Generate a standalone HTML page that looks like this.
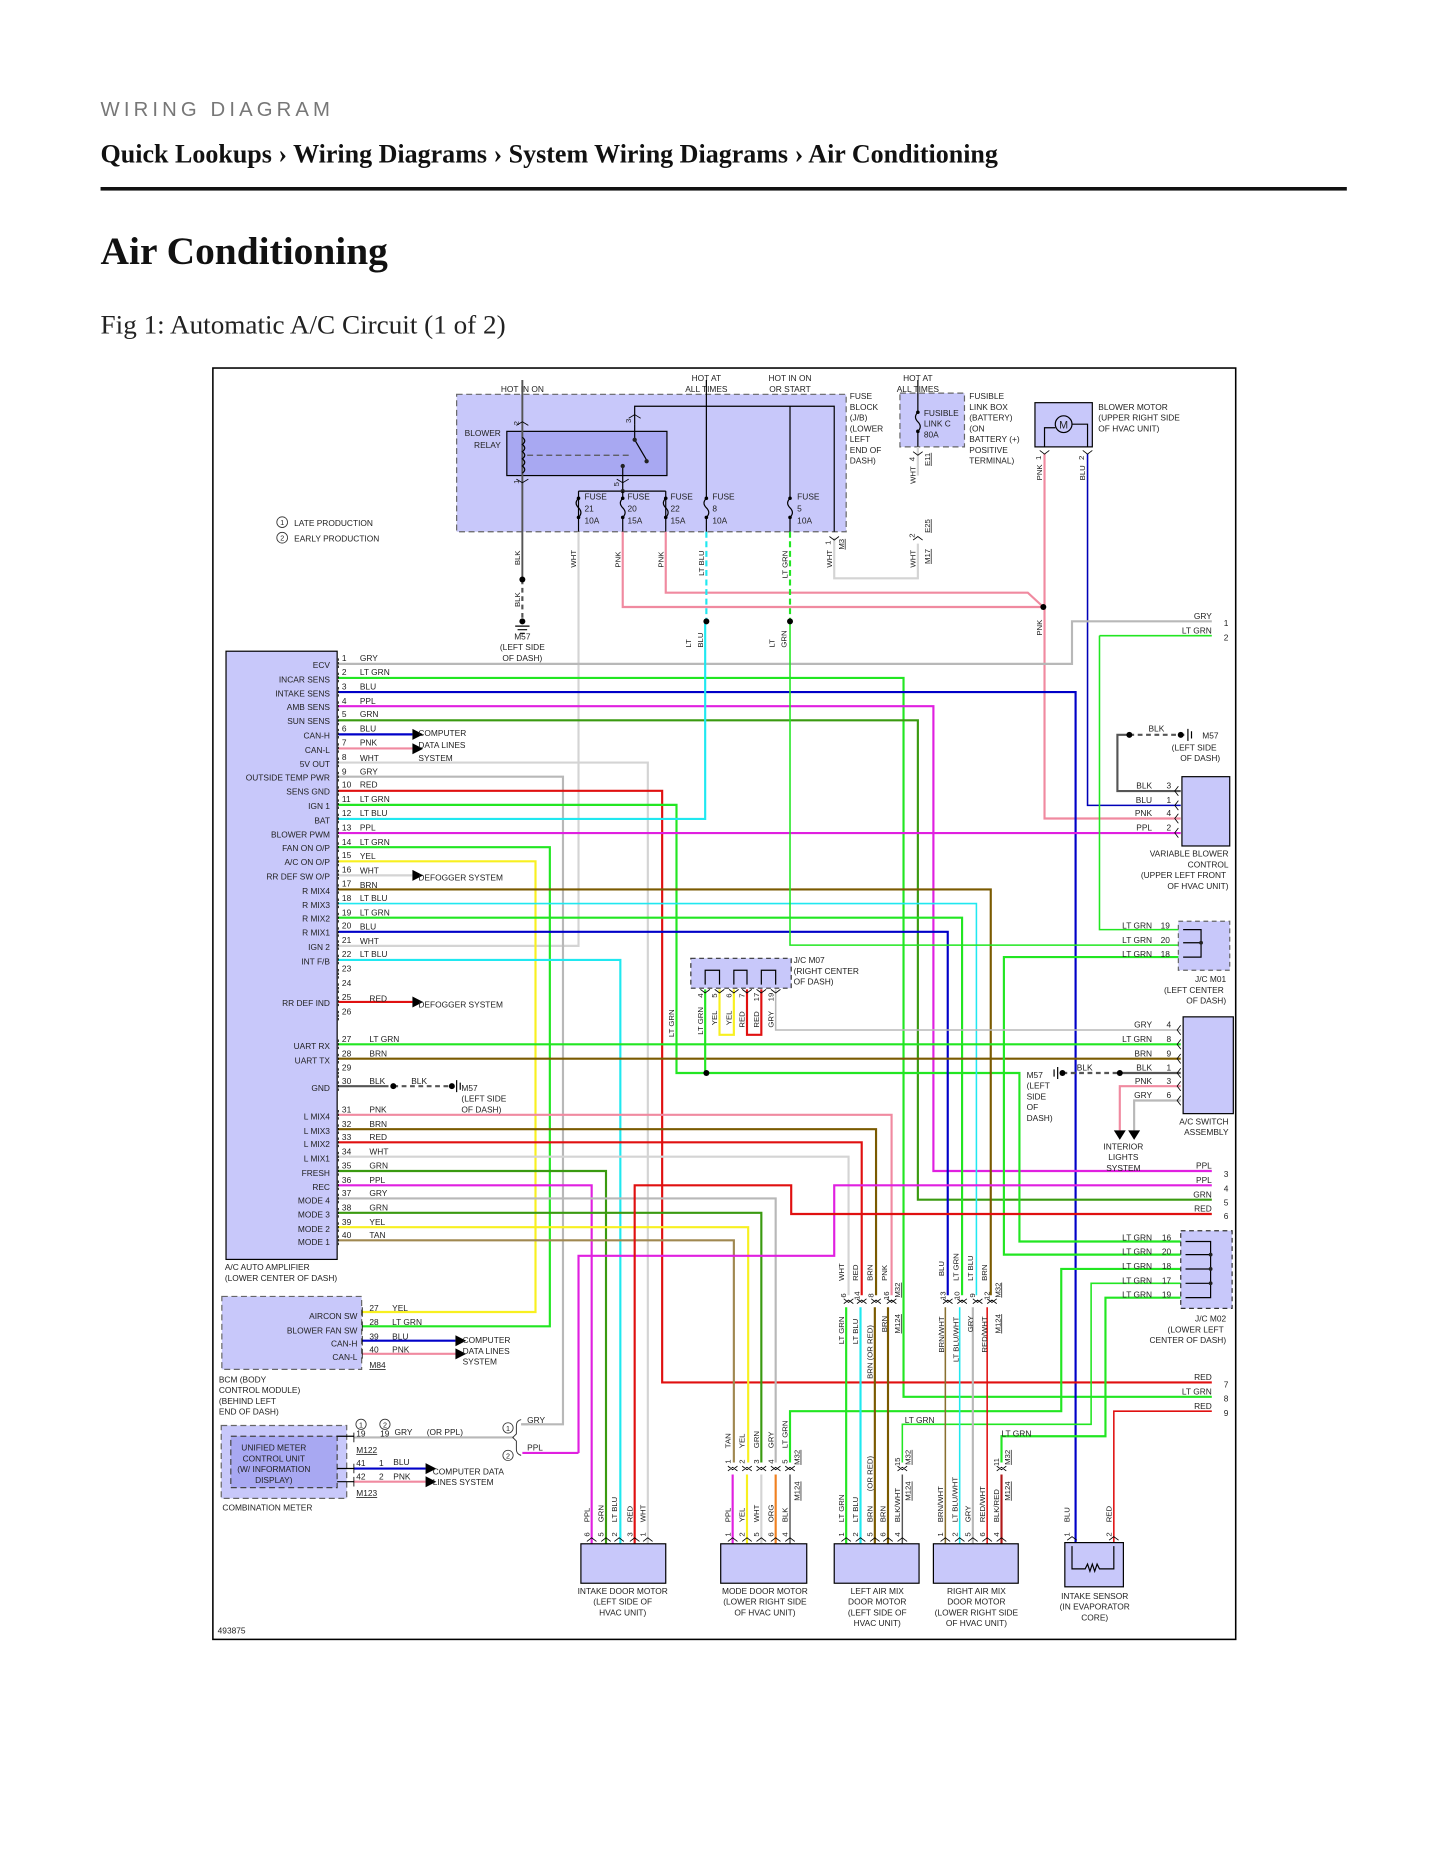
<!DOCTYPE html>
<html><head><meta charset="utf-8"><style>
html,body{margin:0;padding:0;background:#fff;}
svg{display:block;}
</style></head><body>
<svg xmlns="http://www.w3.org/2000/svg" width="1445" height="1870" viewBox="0 0 1209 1565" font-family="Liberation Sans, sans-serif">
<rect width="1209" height="1565" fill="#fff"/>
<text x="84" y="97" font-size="17" textLength="192" lengthAdjust="spacing" fill="#777">WIRING DIAGRAM</text>
<text x="84" y="136" font-family="Liberation Serif, serif" font-weight="bold" font-size="22" textLength="751" lengthAdjust="spacingAndGlyphs" fill="#111">Quick Lookups › Wiring Diagrams › System Wiring Diagrams › Air Conditioning</text>
<rect x="84" y="156.5" width="1043" height="3" fill="#111"/>
<text x="84" y="221" font-family="Liberation Serif, serif" font-weight="bold" font-size="33" fill="#111">Air Conditioning</text>
<text x="84" y="279" font-family="Liberation Serif, serif" font-size="22" textLength="339" lengthAdjust="spacingAndGlyphs" fill="#222">Fig 1: Automatic A/C Circuit (1 of 2)</text>
<rect x="178" y="308" width="856" height="1064" fill="none" stroke="#000" stroke-width="1.3"/>

<g font-size="7" fill="#222">
<rect x="382" y="330" width="326" height="115" fill="#c8c8fa" stroke="#666" stroke-dasharray="5,3"/>
<rect x="753" y="329" width="54" height="45" fill="#c8c8fa" stroke="#666" stroke-dasharray="5,3"/>
<rect x="866" y="337" width="48" height="37" fill="#c8c8fa" stroke="#000"/>
<rect x="424" y="361" width="134" height="37" fill="#a8a8f2" stroke="#000"/>
<text x="437" y="328" text-anchor="middle">HOT IN ON</text>
<text x="591" y="319" text-anchor="middle">HOT AT</text><text x="591" y="328" text-anchor="middle">ALL TIMES</text>
<text x="661" y="319" text-anchor="middle">HOT IN ON</text><text x="661" y="328" text-anchor="middle">OR START</text>
<text x="768" y="319" text-anchor="middle">HOT AT</text><text x="768" y="328" text-anchor="middle">ALL TIMES</text>
<text x="419" y="365" text-anchor="end">BLOWER</text><text x="419" y="375" text-anchor="end">RELAY</text>
<text x="711" y="334">FUSE</text><text x="711" y="343">BLOCK</text><text x="711" y="352">(J/B)</text><text x="711" y="361">(LOWER</text><text x="711" y="370">LEFT</text><text x="711" y="379">END OF</text><text x="711" y="388">DASH)</text>
<text x="773" y="348">FUSIBLE</text><text x="773" y="357">LINK C</text><text x="773" y="366">80A</text>
<text x="811" y="334">FUSIBLE</text><text x="811" y="343">LINK BOX</text><text x="811" y="352">(BATTERY)</text><text x="811" y="361">(ON</text><text x="811" y="370">BATTERY (+)</text><text x="811" y="379">POSITIVE</text><text x="811" y="388">TERMINAL)</text>
<text x="919" y="343">BLOWER MOTOR</text><text x="919" y="352">(UPPER RIGHT SIDE</text><text x="919" y="361">OF HVAC UNIT)</text>
<circle cx="890" cy="355" r="7" fill="none" stroke="#000"/><text x="890" y="358.5" text-anchor="middle" font-size="9">M</text>
<path d="M874 374 V358 H883 M897 355 H910 V374" fill="none" stroke="#000"/>
<path d="M437 318 V485" stroke="#555" stroke-width="1.6"/>
<path d="M437 366 q4 3 0 6 q4 3 0 6 q4 3 0 6 q4 3 0 6 q4 3 0 6" fill="none" stroke="#000"/>
<path d="M441 381 H528" stroke="#555" stroke-dasharray="5,3"/>
<path d="M531 355 V340 H698 V445" fill="none" stroke="#000"/>
<path d="M531 355 V368 L541 385" fill="none" stroke="#000"/><circle cx="531" cy="368" r="1.8"/><circle cx="541" cy="386" r="1.8"/>
<path d="M521 390 V411 M484 411 H557 M484 411 V445 M557 411 V445" fill="none" stroke="#000"/>
<circle cx="521" cy="390" r="1.8"/><circle cx="521" cy="411" r="1.8"/>
<g fill="none" stroke="#000">
<path d="M484 417 q-4 4 0 8 q4 4 0 8"/><path d="M521 411 V417 q-4 4 0 8 q4 4 0 8 V445"/><path d="M557 417 q-4 4 0 8 q4 4 0 8"/>
<path d="M591 318 V417 q-4 4 0 8 q4 4 0 8 V445"/><path d="M661 340 V417 q-4 4 0 8 q4 4 0 8 V445"/>
<path d="M768 318 V345 q-4 4 0 8 q4 4 0 8 V374"/>
</g>
<g fill="#000"><circle cx="484" cy="417" r="1.5"/><circle cx="484" cy="433" r="1.5"/><circle cx="521" cy="417" r="1.5"/><circle cx="521" cy="433" r="1.5"/><circle cx="557" cy="417" r="1.5"/><circle cx="557" cy="433" r="1.5"/><circle cx="591" cy="417" r="1.5"/><circle cx="591" cy="433" r="1.5"/><circle cx="661" cy="417" r="1.5"/><circle cx="661" cy="433" r="1.5"/><circle cx="768" cy="345" r="1.5"/><circle cx="768" cy="361" r="1.5"/></g>
<text x="489" y="418">FUSE</text><text x="489" y="428">21</text><text x="489" y="438">10A</text>
<text x="525" y="418">FUSE</text><text x="525" y="428">20</text><text x="525" y="438">15A</text>
<text x="561" y="418">FUSE</text><text x="561" y="428">22</text><text x="561" y="438">15A</text>
<text x="596" y="418">FUSE</text><text x="596" y="428">8</text><text x="596" y="438">10A</text>
<text x="667" y="418">FUSE</text><text x="667" y="428">5</text><text x="667" y="438">10A</text>
<circle cx="236" cy="437" r="4.5" fill="none" stroke="#333" stroke-width=".7"/><text x="236" y="439.5" text-anchor="middle" font-size="6">1</text><text x="246" y="440">LATE PRODUCTION</text>
<circle cx="236" cy="450" r="4.5" fill="none" stroke="#333" stroke-width=".7"/><text x="236" y="452.5" text-anchor="middle" font-size="6">2</text><text x="246" y="453">EARLY PRODUCTION</text>
</g>

<g fill="none" stroke-width="1.8" stroke-linejoin="miter">
<path d="M437 485 V520" stroke="#555" stroke-dasharray="4,3"/>
<path d="M484 445 V791.6 H283" stroke="#d4d4d4"/>
<path d="M521 445 V508 H873" stroke="#f08aa0"/>
<path d="M557 445 V496 H860 L873 508" stroke="#f08aa0"/>
<path d="M591 445 V520" stroke="#20e8f0" stroke-dasharray="5,3"/>
<path d="M661 445 V520" stroke="#22e622" stroke-dasharray="5,3"/>
<path d="M698 450 V484 H768 V455" stroke="#d4d4d4"/>
<path d="M768 374 V398" stroke="#d4d4d4"/>
<path d="M874 380 V685 H988" stroke="#f08aa0"/>
<path d="M910 380 V674 H988" stroke="#0000b8" stroke-width="1.3"/>
<path d="M988 662 H935 V615 H945" stroke="#555"/>
<path d="M945 615 H992" stroke="#555" stroke-dasharray="4,3"/>
<path d="M283 555.6 H897 V520 H1014" stroke="#b8b8b8"/>
<path d="M283 567.4 H756 V1169 H1014" stroke="#22e622"/>
<path d="M283 579.2 H900 V1292" stroke="#0000c8"/>
<path d="M283 591 H781 V980 H1014" stroke="#e020e0"/>
<path d="M283 602.8 H768 V1004 H1014" stroke="#3a9a10"/>
<path d="M283 614.6 H345" stroke="#0000c8"/>
<path d="M283 626.4 H345" stroke="#f08aa0"/>
<path d="M283 638.2 H542 V1292" stroke="#d4d4d4"/>
<path d="M283 650 H471 V1192 H436" stroke="#b8b8b8"/>
<path d="M283 661.8 H554 V1157 H1014" stroke="#e01010"/>
<path d="M283 673.6 H566 V898 H853 V1039 H988" stroke="#22e622"/>
<path d="M283 685.4 H590 V520" stroke="#20e8f0"/>
<path d="M283 697.2 H988" stroke="#e020e0"/>
<path d="M283 709 H460 V1110 H303" stroke="#22e622"/>
<path d="M283 720.8 H448 V1098 H303" stroke="#f8f020"/>
<path d="M283 732.6 H345" stroke="#d4d4d4"/>
<path d="M283 744.4 H829 V1084" stroke="#7a5a00"/>
<path d="M283 756.2 H817 V1084" stroke="#20e8f0" stroke-width="1.3"/>
<path d="M283 768 H805 V1084" stroke="#22e622"/>
<path d="M283 779.8 H793 V1084" stroke="#0000c8"/>
<path d="M283 803.4 H519 V1292" stroke="#20e8f0"/>
<path d="M283 838.5 H345" stroke="#e01010"/>
<path d="M283 874 H988" stroke="#22e622"/>
<path d="M283 886 H988" stroke="#7a5a00"/>
<path d="M283 909 H325" stroke="#555"/>
<path d="M329 909 H378" stroke="#555" stroke-dasharray="4,3"/>
<path d="M283 933 H746 V1084" stroke="#f08aa0"/>
<path d="M283 945 H733 V1084" stroke="#7a5a00"/>
<path d="M283 956 H721 V1084" stroke="#e01010"/>
<path d="M283 968 H710 V1084" stroke="#d4d4d4"/>
<path d="M283 980 H507 V1292" stroke="#3a9a10"/>
<path d="M283 992 H495 V1292" stroke="#e020e0"/>
<path d="M283 1003 H649 V1224" stroke="#b8b8b8"/>
<path d="M283 1015 H637 V1224" stroke="#3a9a10"/>
<path d="M283 1027 H626 V1224" stroke="#f8f020"/>
<path d="M283 1038 H614 V1224" stroke="#a08850"/>
<path d="M661 520 V791 H988" stroke="#22e622" stroke-width="1.3"/>
<path d="M920 532 H1014 M920 532 V778 H988" stroke="#22e622" stroke-width="1.3"/>
<path d="M988 801 H840 V1050 H988" stroke="#22e622"/>
<path d="M590 828 V898" stroke="#22e622"/>
<path d="M649 828 V862 H988" stroke="#b8b8b8" stroke-width="1.3"/>
<path d="M602 828 V866 H614 V828" stroke="#f8f020"/>
<path d="M625 828 V866 H637 V828" stroke="#e01010"/>
<path d="M937 898 H988" stroke="#555"/>
<path d="M889 898 H937" stroke="#555" stroke-dasharray="4,3"/>
<path d="M988 909 H937 V946" stroke="#f08aa0"/>
<path d="M988 921 H949 V946" stroke="#b8b8b8"/>
<path d="M484 1216 V1051 H698 V992 H1014" stroke="#e020e0"/>
<path d="M531 1292 V992 H662 V1016 H1014" stroke="#e01010"/>
<path d="M988 1062 H888 V1181 H661 V1224" stroke="#22e622"/>
<path d="M988 1074 H913 V1192 H755 V1224" stroke="#22e622" stroke-width="1.3"/>
<path d="M988 1086 H925 V1202 H838 V1224" stroke="#22e622"/>
<path d="M932 1292 V1181 H1014" stroke="#e01010" stroke-width="1.3"/>
<path d="M708 1094 V1292" stroke="#22e622"/>
<path d="M720 1094 V1292" stroke="#20e8f0"/>
<path d="M732 1094 V1292" stroke="#7a5a00"/>
<path d="M743 1094 V1292" stroke="#7a5a00"/>
<path d="M755 1234 V1292" stroke="#555" stroke-width="1.2"/>
<path d="M791 1094 V1292" stroke="#8a7030" stroke-width="1.3"/>
<path d="M803 1094 V1292" stroke="#20e8f0" stroke-width="1.3"/>
<path d="M814 1094 V1292" stroke="#b8b8b8"/>
<path d="M826 1094 V1292" stroke="#e01010" stroke-width="1.3"/>
<path d="M838 1234 V1292" stroke="#b01818"/>
<path d="M613 1234 V1292" stroke="#e020e0"/>
<path d="M625 1234 V1292" stroke="#f8f020"/>
<path d="M637 1234 V1292" stroke="#d4d4d4"/>
<path d="M649 1234 V1292" stroke="#f08020"/>
<path d="M661 1234 V1292" stroke="#555" stroke-width="1.2"/>
<path d="M303 1122 H381" stroke="#0000c8"/>
<path d="M303 1133 H381" stroke="#f08aa0"/>
<path d="M296 1203 H430" stroke="#b8b8b8"/>
<path d="M442 1192 H436" stroke="#b8b8b8"/>
<path d="M437 1216 H484" stroke="#e020e0"/>
<path d="M296 1229 H356" stroke="#0000c8"/>
<path d="M296 1240 H356" stroke="#f08aa0"/>
</g>
<g fill="#000">
<circle cx="437" cy="485" r="2.5"/><circle cx="591" cy="520" r="2.5"/><circle cx="661" cy="520" r="2.5"/><circle cx="873" cy="508" r="2.5"/>
<circle cx="945" cy="615" r="2.5"/><circle cx="591" cy="898" r="2.5"/><circle cx="937" cy="898" r="2.5"/><circle cx="329" cy="909" r="2.5"/>
<circle cx="988" cy="615" r="2.5"/><circle cx="378" cy="909" r="2.5"/><circle cx="889" cy="898" r="2.5"/><circle cx="437" cy="520" r="2.5"/>
<path d="M345 610 l9 4.6 l-9 4.6z M345 622 l9 4.6 l-9 4.6z M345 728 l9 4.6 l-9 4.6z M345 834 l9 4.6 l-9 4.6z"/>
<path d="M381 1117.5 l9 4.6 l-9 4.6z M381 1128.5 l9 4.6 l-9 4.6z M356 1224.5 l9 4.6 l-9 4.6z M356 1235.5 l9 4.6 l-9 4.6z"/>
<path d="M932 946 h10 l-5 8z M944 946 h10 l-5 8z"/>
</g>
<g stroke="#000" stroke-width="1">
<path d="M431 524 h12 M433 527 h8 M435 530 h4"/>
<path d="M994 610 v10 M997 612 v6 M382 904 v10 M385 906 v6 M885 893 v10 M882 895 v6"/>
</g>

<g font-size="7" fill="#222">
<rect x="189" y="545" width="93" height="509" fill="#c8c8fa" stroke="#000"/>
<g text-anchor="end">
<text x="276" y="559">ECV</text><text x="276" y="571">INCAR SENS</text><text x="276" y="583">INTAKE SENS</text><text x="276" y="594">AMB SENS</text><text x="276" y="606">SUN SENS</text><text x="276" y="618">CAN-H</text><text x="276" y="630">CAN-L</text><text x="276" y="642">5V OUT</text><text x="276" y="653">OUTSIDE TEMP PWR</text><text x="276" y="665">SENS GND</text><text x="276" y="677">IGN 1</text><text x="276" y="689">BAT</text><text x="276" y="701">BLOWER PWM</text><text x="276" y="712">FAN ON O/P</text><text x="276" y="724">A/C ON O/P</text><text x="276" y="736">RR DEF SW O/P</text><text x="276" y="748">R MIX4</text><text x="276" y="760">R MIX3</text><text x="276" y="771">R MIX2</text><text x="276" y="783">R MIX1</text><text x="276" y="795">IGN 2</text><text x="276" y="807">INT F/B</text><text x="276" y="842">RR DEF IND</text><text x="276" y="878">UART RX</text><text x="276" y="890">UART TX</text><text x="276" y="913">GND</text><text x="276" y="937">L MIX4</text><text x="276" y="949">L MIX3</text><text x="276" y="960">L MIX2</text><text x="276" y="972">L MIX1</text><text x="276" y="984">FRESH</text><text x="276" y="996">REC</text><text x="276" y="1007">MODE 4</text><text x="276" y="1019">MODE 3</text><text x="276" y="1031">MODE 2</text><text x="276" y="1042">MODE 1</text>
</g>
<g>
<text x="286" y="553">1</text><text x="301" y="553">GRY</text>
<text x="286" y="565">2</text><text x="301" y="565">LT GRN</text>
<text x="286" y="577">3</text><text x="301" y="577">BLU</text>
<text x="286" y="589">4</text><text x="301" y="589">PPL</text>
<text x="286" y="600">5</text><text x="301" y="600">GRN</text>
<text x="286" y="612">6</text><text x="301" y="612">BLU</text>
<text x="286" y="624">7</text><text x="301" y="624">PNK</text>
<text x="286" y="636">8</text><text x="301" y="637">WHT</text>
<text x="286" y="648">9</text><text x="301" y="648">GRY</text>
<text x="286" y="659">10</text><text x="301" y="659">RED</text>
<text x="286" y="671">11</text><text x="301" y="671">LT GRN</text>
<text x="286" y="683">12</text><text x="301" y="683">LT BLU</text>
<text x="286" y="695">13</text><text x="301" y="695">PPL</text>
<text x="286" y="707">14</text><text x="301" y="707">LT GRN</text>
<text x="286" y="718">15</text><text x="301" y="719">YEL</text>
<text x="286" y="730">16</text><text x="301" y="731">WHT</text>
<text x="286" y="742">17</text><text x="301" y="743">BRN</text>
<text x="286" y="754">18</text><text x="301" y="754">LT BLU</text>
<text x="286" y="766">19</text><text x="301" y="766">LT GRN</text>
<text x="286" y="777">20</text><text x="301" y="778">BLU</text>
<text x="286" y="789">21</text><text x="301" y="790">WHT</text>
<text x="286" y="801">22</text><text x="301" y="801">LT BLU</text>
<text x="286" y="813">23</text><text x="286" y="825">24</text>
<text x="286" y="837">25</text><text x="309" y="838">RED</text><text x="286" y="849">26</text>
<text x="286" y="872">27</text><text x="309" y="872">LT GRN</text>
<text x="286" y="884">28</text><text x="309" y="884">BRN</text>
<text x="286" y="896">29</text>
<text x="286" y="907">30</text><text x="309" y="907">BLK</text><text x="344" y="907">BLK</text>
<text x="286" y="931">31</text><text x="309" y="931">PNK</text>
<text x="286" y="943">32</text><text x="309" y="943">BRN</text>
<text x="286" y="954">33</text><text x="309" y="954">RED</text>
<text x="286" y="966">34</text><text x="309" y="966">WHT</text>
<text x="286" y="978">35</text><text x="309" y="978">GRN</text>
<text x="286" y="990">36</text><text x="309" y="990">PPL</text>
<text x="286" y="1001">37</text><text x="309" y="1001">GRY</text>
<text x="286" y="1013">38</text><text x="309" y="1013">GRN</text>
<text x="286" y="1025">39</text><text x="309" y="1025">YEL</text>
<text x="286" y="1036">40</text><text x="309" y="1036">TAN</text>
</g>
<text x="350" y="616">COMPUTER</text><text x="350" y="626">DATA LINES</text><text x="350" y="637">SYSTEM</text>
<text x="350" y="737">DEFOGGER SYSTEM</text><text x="350" y="843">DEFOGGER SYSTEM</text>
<text x="386" y="913">M57</text><text x="386" y="922">(LEFT SIDE</text><text x="386" y="931">OF DASH)</text>
<text x="188" y="1063">A/C AUTO AMPLIFIER</text><text x="188" y="1072">(LOWER CENTER OF DASH)</text>
<text x="437" y="535" text-anchor="middle">M57</text><text x="437" y="544" text-anchor="middle">(LEFT SIDE</text><text x="437" y="553" text-anchor="middle">OF DASH)</text>

<rect x="185.5" y="1085" width="117" height="61" fill="#c8c8fa" stroke="#666" stroke-dasharray="5,3"/>
<g text-anchor="end"><text x="299" y="1104">AIRCON SW</text><text x="299" y="1116">BLOWER FAN SW</text><text x="299" y="1127">CAN-H</text><text x="299" y="1138">CAN-L</text></g>
<text x="309" y="1097">27</text><text x="328" y="1097">YEL</text>
<text x="309" y="1109">28</text><text x="328" y="1109">LT GRN</text>
<text x="309" y="1121">39</text><text x="328" y="1121">BLU</text>
<text x="309" y="1132">40</text><text x="328" y="1132">PNK</text>
<text x="309" y="1145" text-decoration="underline">M84</text>
<text x="387" y="1124">COMPUTER</text><text x="387" y="1133">DATA LINES</text><text x="387" y="1142">SYSTEM</text>
<text x="183" y="1157">BCM (BODY</text><text x="183" y="1166">CONTROL MODULE)</text><text x="183" y="1175">(BEHIND LEFT</text><text x="183" y="1184">END OF DASH)</text>
<rect x="185" y="1193" width="105" height="61" fill="#c8c8fa" stroke="#666" stroke-dasharray="5,3"/>
<rect x="193" y="1202" width="89" height="43" fill="#a8a8f2" stroke="#444" stroke-dasharray="5,3"/>
<g text-anchor="middle" font-size="7"><text x="229" y="1214">UNIFIED METER</text><text x="229" y="1223">CONTROL UNIT</text><text x="229" y="1232">(W/ INFORMATION</text><text x="229" y="1241">DISPLAY)</text></g>
<path d="M282 1202 H296 M282 1229 H296 M282 1240 H296" stroke="#000" fill="none"/>
<circle cx="302" cy="1192" r="4.3" fill="none" stroke="#333" stroke-width=".7"/><text x="302" y="1194.5" text-anchor="middle" font-size="6">1</text>
<circle cx="322" cy="1192" r="4.3" fill="none" stroke="#333" stroke-width=".7"/><text x="322" y="1194.5" text-anchor="middle" font-size="6">2</text>
<text x="298" y="1202">19</text><text x="318" y="1202">19</text><text x="330" y="1201">GRY</text><text x="357" y="1201">(OR PPL)</text>
<text x="298" y="1216" text-decoration="underline">M122</text>
<text x="298" y="1227">41</text><text x="317" y="1227">1</text><text x="329" y="1226">BLU</text>
<text x="298" y="1238">42</text><text x="317" y="1238">2</text><text x="329" y="1238">PNK</text>
<text x="298" y="1252" text-decoration="underline">M123</text>
<text x="362" y="1234">COMPUTER DATA</text><text x="362" y="1243">LINES SYSTEM</text>
<text x="186" y="1264">COMBINATION METER</text>
<path d="M436 1188 q-4 1 -4 5 v7 l-3 3 l3 3 v7 q0 4 4 5" fill="none" stroke="#333" stroke-width=".8"/>
<circle cx="425" cy="1195" r="4.3" fill="none" stroke="#333" stroke-width=".7"/><text x="425" y="1197.5" text-anchor="middle" font-size="6">1</text>
<circle cx="425" cy="1218" r="4.3" fill="none" stroke="#333" stroke-width=".7"/><text x="425" y="1220.5" text-anchor="middle" font-size="6">2</text>
<text x="441" y="1191">GRY</text><text x="441" y="1214">PPL</text>

<rect x="989" y="650" width="40" height="58" fill="#c8c8fa" stroke="#000"/>
<g text-anchor="end"><text x="964" y="660">BLK</text><text x="964" y="672">BLU</text><text x="964" y="683">PNK</text><text x="964" y="695">PPL</text></g>
<g text-anchor="end"><text x="980" y="660">3</text><text x="980" y="672">1</text><text x="980" y="683">4</text><text x="980" y="695">2</text></g>
<text x="961" y="612">BLK</text><text x="1006" y="618">M57</text><text x="1018" y="628" text-anchor="end">(LEFT SIDE</text><text x="1021" y="637" text-anchor="end">OF DASH)</text>
<g text-anchor="end"><text x="1028" y="717">VARIABLE BLOWER</text><text x="1028" y="726">CONTROL</text><text x="1026" y="735">(UPPER LEFT FRONT</text><text x="1028" y="744">OF HVAC UNIT)</text></g>
<text x="1014" y="518" text-anchor="end">GRY</text><text x="1014" y="530" text-anchor="end">LT GRN</text><text x="1024" y="524">1</text><text x="1024" y="536">2</text>
<rect x="986" y="771" width="43" height="41" fill="#c8c8fa" stroke="#666" stroke-dasharray="4,3"/>
<path d="M990 778 H1005 V801 H990 M990 789 H1005" fill="none" stroke="#000"/><circle cx="1005" cy="789" r="1.6"/>
<g text-anchor="end"><text x="964" y="777">LT GRN</text><text x="964" y="789">LT GRN</text><text x="964" y="801">LT GRN</text><text x="979" y="777">19</text><text x="979" y="789">20</text><text x="979" y="801">18</text>
<text x="1026" y="822">J/C M01</text><text x="1024" y="831">(LEFT CENTER</text><text x="1026" y="840">OF DASH)</text></g>
<rect x="578" y="802" width="84" height="25" fill="#c8c8fa" stroke="#333" stroke-dasharray="4,3"/>
<path d="M590 824 V812 H602 V824 M614 824 V812 H625 V824 M637 824 V812 H649 V824" fill="none" stroke="#000"/>
<text x="664" y="806">J/C M07</text><text x="664" y="815">(RIGHT CENTER</text><text x="664" y="824">OF DASH)</text>
<rect x="990" y="851" width="42" height="81" fill="#c8c8fa" stroke="#000"/>
<g text-anchor="end"><text x="964" y="860">GRY</text><text x="964" y="872">LT GRN</text><text x="964" y="884">BRN</text><text x="964" y="896">BLK</text><text x="964" y="907">PNK</text><text x="964" y="919">GRY</text>
<text x="980" y="860">4</text><text x="980" y="872">8</text><text x="980" y="884">9</text><text x="980" y="896">1</text><text x="980" y="907">3</text><text x="980" y="919">6</text>
<text x="1028" y="941">A/C SWITCH</text><text x="1028" y="950">ASSEMBLY</text></g>
<text x="901" y="896">BLK</text>
<text x="859" y="902">M57</text><text x="859" y="911">(LEFT</text><text x="859" y="920">SIDE</text><text x="859" y="929">OF</text><text x="859" y="938">DASH)</text>
<g text-anchor="middle"><text x="940" y="962">INTERIOR</text><text x="940" y="971">LIGHTS</text><text x="940" y="980">SYSTEM</text></g>
<g text-anchor="end"><text x="1014" y="978">PPL</text><text x="1014" y="990">PPL</text><text x="1014" y="1002">GRN</text><text x="1014" y="1014">RED</text><text x="1014" y="1155">RED</text><text x="1014" y="1167">LT GRN</text><text x="1014" y="1179">RED</text></g>
<text x="1024" y="985">3</text><text x="1024" y="997">4</text><text x="1024" y="1009">5</text><text x="1024" y="1020">6</text><text x="1024" y="1161">7</text><text x="1024" y="1173">8</text><text x="1024" y="1185">9</text>
<rect x="988" y="1030" width="43" height="65" fill="#c8c8fa" stroke="#333" stroke-dasharray="4,3"/>
<path d="M992 1039 H1013 V1086 H992 M992 1050 H1013 M992 1062 H1013 M992 1074 H1013" fill="none" stroke="#000"/>
<circle cx="1013" cy="1050" r="1.6"/><circle cx="1013" cy="1062" r="1.6"/><circle cx="1013" cy="1074" r="1.6"/>
<g text-anchor="end"><text x="964" y="1038">LT GRN</text><text x="964" y="1050">LT GRN</text><text x="964" y="1062">LT GRN</text><text x="964" y="1074">LT GRN</text><text x="964" y="1086">LT GRN</text>
<text x="980" y="1038">16</text><text x="980" y="1050">20</text><text x="980" y="1062">18</text><text x="980" y="1074">17</text><text x="980" y="1086">19</text>
<text x="1026" y="1106">J/C M02</text><text x="1024" y="1115">(LOWER LEFT</text><text x="1026" y="1124">CENTER OF DASH)</text></g>
<text x="757" y="1191">LT GRN</text><text x="838" y="1202">LT GRN</text>

<rect x="486" y="1292" width="71" height="33" fill="#c8c8fa" stroke="#000"/>
<rect x="603" y="1292" width="72" height="33" fill="#c8c8fa" stroke="#000"/>
<rect x="698" y="1292" width="71" height="33" fill="#c8c8fa" stroke="#000"/>
<rect x="781" y="1292" width="71" height="33" fill="#c8c8fa" stroke="#000"/>
<rect x="891" y="1291" width="49" height="37" fill="#c8c8fa" stroke="#000"/>
<path d="M897 1294 V1313 H908 l2 -4 l2 6 l2 -6 l2 6 l2 -6 l2 4 H932 V1294" fill="none" stroke="#000"/>
<g text-anchor="middle">
<text x="521" y="1334">INTAKE DOOR MOTOR</text><text x="521" y="1343">(LEFT SIDE OF</text><text x="521" y="1352">HVAC UNIT)</text>
<text x="640" y="1334">MODE DOOR MOTOR</text><text x="640" y="1343">(LOWER RIGHT SIDE</text><text x="640" y="1352">OF HVAC UNIT)</text>
<text x="734" y="1334">LEFT AIR MIX</text><text x="734" y="1343">DOOR MOTOR</text><text x="734" y="1352">(LEFT SIDE OF</text><text x="734" y="1361">HVAC UNIT)</text>
<text x="817" y="1334">RIGHT AIR MIX</text><text x="817" y="1343">DOOR MOTOR</text><text x="817" y="1352">(LOWER RIGHT SIDE</text><text x="817" y="1361">OF HVAC UNIT)</text>
<text x="916" y="1338">INTAKE SENSOR</text><text x="916" y="1347">(IN EVAPORATOR</text><text x="916" y="1356">CORE)</text>
</g>
<text x="182" y="1367">493875</text>
</g>

<g fill="none" stroke="#000" stroke-width=".7">
<path d="M283 551v9 M283 563v9 M283 575v9 M283 587v9 M283 599v9 M283 610v9 M283 622v9 M283 634v9 M283 646v9 M283 658v9 M283 669v9 M283 681v9 M283 693v9 M283 705v9 M283 717v9 M283 728v9 M283 740v9 M283 752v9 M283 764v9 M283 776v9 M283 787v9 M283 799v9 M283 811v9 M283 823v9 M283 834v9 M283 846v9 M283 870v9 M283 882v9 M283 894v9 M283 905v9 M283 929v9 M283 941v9 M283 952v9 M283 964v9 M283 976v9 M283 988v9 M283 999v9 M283 1011v9 M283 1023v9 M283 1034v9" stroke-dasharray="2,1"/>
<path d="M303 1094v8 M303 1106v8 M303 1118v8 M303 1129v8 M296 1199v8 M296 1225v8 M296 1236v8"/>
<path d="M432 356 l5 -3 l5 3 M432 401 l5 3 l5 -3 M526 350 l5 -3 l5 3 M516 401 l5 3 l5 -3"/>
<path d="M694 449 l4 3 l4 -3 M764 378 l4 3 l4 -3 M764 452 l4 -3 l4 3 M870 377 l4 3 l4 -3 M906 377 l4 3 l4 -3"/>
<path d="M986 658 l-3 4 l3 4 M986 670 l-3 4 l3 4 M986 681 l-3 4 l3 4 M986 693 l-3 4 l3 4 M988 858 l-3 4 l3 4 M988 870 l-3 4 l3 4 M988 882 l-3 4 l3 4 M988 894 l-3 4 l3 4 M988 905 l-3 4 l3 4 M988 917 l-3 4 l3 4"/>
<path d="M586 828 l4 3 l4 -3 M598 828 l4 3 l4 -3 M610 828 l4 3 l4 -3 M621 828 l4 3 l4 -3 M633 828 l4 3 l4 -3 M645 828 l4 3 l4 -3"/>
<path d="M706 1087 l4 3 l4 -3 M706 1091 l4 -3 l4 3 M717 1087 l4 3 l4 -3 M717 1091 l4 -3 l4 3 M729 1087 l4 3 l4 -3 M729 1091 l4 -3 l4 3 M742 1087 l4 3 l4 -3 M742 1091 l4 -3 l4 3"/>
<path d="M789 1087 l4 3 l4 -3 M789 1091 l4 -3 l4 3 M801 1087 l4 3 l4 -3 M801 1091 l4 -3 l4 3 M814 1087 l4 3 l4 -3 M814 1091 l4 -3 l4 3 M826 1087 l4 3 l4 -3 M826 1091 l4 -3 l4 3"/>
<path d="M609 1227 l4 3 l4 -3 M609 1231 l4 -3 l4 3 M621 1227 l4 3 l4 -3 M621 1231 l4 -3 l4 3 M633 1227 l4 3 l4 -3 M633 1231 l4 -3 l4 3 M645 1227 l4 3 l4 -3 M645 1231 l4 -3 l4 3 M657 1227 l4 3 l4 -3 M657 1231 l4 -3 l4 3 M751 1227 l4 3 l4 -3 M751 1231 l4 -3 l4 3 M834 1227 l4 3 l4 -3 M834 1231 l4 -3 l4 3"/>
<path d="M491 1290 l4 -3 l4 3 M503 1290 l4 -3 l4 3 M514 1290 l4 -3 l4 3 M527 1290 l4 -3 l4 3 M538 1290 l4 -3 l4 3 M609 1290 l4 -3 l4 3 M621 1290 l4 -3 l4 3 M633 1290 l4 -3 l4 3 M645 1290 l4 -3 l4 3 M657 1290 l4 -3 l4 3 M704 1290 l4 -3 l4 3 M716 1290 l4 -3 l4 3 M728 1290 l4 -3 l4 3 M739 1290 l4 -3 l4 3 M751 1290 l4 -3 l4 3 M787 1290 l4 -3 l4 3 M799 1290 l4 -3 l4 3 M810 1290 l4 -3 l4 3 M822 1290 l4 -3 l4 3 M834 1290 l4 -3 l4 3 M893 1289 l4 -3 l4 3 M928 1289 l4 -3 l4 3"/>
</g>

<g font-size="6.5" fill="#222">
<g transform="translate(435,473) rotate(-90)"><text>BLK</text></g>
<g transform="translate(435,508) rotate(-90)"><text>BLK</text></g>
<g transform="translate(482,475) rotate(-90)"><text>WHT</text></g>
<g transform="translate(519,475) rotate(-90)"><text>PNK</text></g>
<g transform="translate(555,475) rotate(-90)"><text>PNK</text></g>
<g transform="translate(589,482) rotate(-90)"><text>LT BLU</text></g>
<g transform="translate(659,484) rotate(-90)"><text>LT GRN</text></g>
<g transform="translate(696,475) rotate(-90)"><text>WHT</text></g>
<g transform="translate(766,475) rotate(-90)"><text>WHT</text></g>
<g transform="translate(766,405) rotate(-90)"><text>WHT</text></g>
<g transform="translate(872,402) rotate(-90)"><text>PNK</text></g>
<g transform="translate(908,402) rotate(-90)"><text>BLU</text></g>
<g transform="translate(872,532) rotate(-90)"><text>PNK</text></g>
<g transform="translate(578,542) rotate(-90)"><text>LT</text></g><g transform="translate(588,542) rotate(-90)"><text>BLU</text></g>
<g transform="translate(648,542) rotate(-90)"><text>LT</text></g><g transform="translate(658,542) rotate(-90)"><text>GRN</text></g>
<g transform="translate(564,868) rotate(-90)"><text>LT GRN</text></g>
<g transform="translate(588,866) rotate(-90)"><text>LT GRN</text></g>
<g transform="translate(600,858) rotate(-90)"><text>YEL</text></g>
<g transform="translate(612,858) rotate(-90)"><text>YEL</text></g>
<g transform="translate(623,860) rotate(-90)"><text>RED</text></g>
<g transform="translate(635,860) rotate(-90)"><text>RED</text></g>
<g transform="translate(647,860) rotate(-90)"><text>GRY</text></g>
<g transform="translate(706,1072) rotate(-90)"><text>WHT</text></g>
<g transform="translate(718,1072) rotate(-90)"><text>RED</text></g>
<g transform="translate(730,1072) rotate(-90)"><text>BRN</text></g>
<g transform="translate(742,1072) rotate(-90)"><text>PNK</text></g>
<g transform="translate(753,1086) rotate(-90)"><text text-decoration="underline">M32</text></g>
<g transform="translate(706,1125) rotate(-90)"><text>LT GRN</text></g>
<g transform="translate(718,1125) rotate(-90)"><text>LT BLU</text></g>
<g transform="translate(730,1154) rotate(-90)"><text>BRN (OR RED)</text></g>
<g transform="translate(742,1115) rotate(-90)"><text>BRN</text></g>
<g transform="translate(753,1116) rotate(-90)"><text text-decoration="underline">M124</text></g>
<g transform="translate(790,1068) rotate(-90)"><text>BLU</text></g>
<g transform="translate(802,1072) rotate(-90)"><text>LT GRN</text></g>
<g transform="translate(814,1072) rotate(-90)"><text>LT BLU</text></g>
<g transform="translate(826,1072) rotate(-90)"><text>BRN</text></g>
<g transform="translate(837,1086) rotate(-90)"><text text-decoration="underline">M32</text></g>
<g transform="translate(790,1132) rotate(-90)"><text>BRN/WHT</text></g>
<g transform="translate(802,1140) rotate(-90)"><text>LT BLU/WHT</text></g>
<g transform="translate(814,1115) rotate(-90)"><text>GRY</text></g>
<g transform="translate(826,1132) rotate(-90)"><text>RED/WHT</text></g>
<g transform="translate(837,1116) rotate(-90)"><text text-decoration="underline">M124</text></g>
<g transform="translate(708,1086) rotate(-90)"><text>6</text></g><g transform="translate(719,1088) rotate(-90)"><text>14</text></g><g transform="translate(731,1086) rotate(-90)"><text>8</text></g><g transform="translate(744,1088) rotate(-90)"><text>16</text></g>
<g transform="translate(791,1088) rotate(-90)"><text>13</text></g><g transform="translate(803,1088) rotate(-90)"><text>10</text></g><g transform="translate(816,1086) rotate(-90)"><text>9</text></g><g transform="translate(828,1088) rotate(-90)"><text>12</text></g>
<g transform="translate(611,1212) rotate(-90)"><text>TAN</text></g>
<g transform="translate(623,1212) rotate(-90)"><text>YEL</text></g>
<g transform="translate(635,1212) rotate(-90)"><text>GRN</text></g>
<g transform="translate(647,1212) rotate(-90)"><text>GRY</text></g>
<g transform="translate(659,1212) rotate(-90)"><text>LT GRN</text></g>
<g transform="translate(669,1226) rotate(-90)"><text text-decoration="underline">M32</text></g>
<g transform="translate(669,1256) rotate(-90)"><text text-decoration="underline">M124</text></g>
<g transform="translate(611,1225) rotate(-90)"><text>1</text></g><g transform="translate(623,1225) rotate(-90)"><text>2</text></g><g transform="translate(635,1225) rotate(-90)"><text>3</text></g><g transform="translate(647,1225) rotate(-90)"><text>4</text></g><g transform="translate(659,1225) rotate(-90)"><text>5</text></g>
<g transform="translate(753,1227) rotate(-90)"><text>15</text></g><g transform="translate(762,1226) rotate(-90)"><text text-decoration="underline">M32</text></g><g transform="translate(762,1256) rotate(-90)"><text text-decoration="underline">M124</text></g>
<g transform="translate(836,1227) rotate(-90)"><text>11</text></g><g transform="translate(845,1226) rotate(-90)"><text text-decoration="underline">M32</text></g><g transform="translate(845,1256) rotate(-90)"><text text-decoration="underline">M124</text></g>
<g transform="translate(493,1274) rotate(-90)"><text>PPL</text></g><g transform="translate(505,1274) rotate(-90)"><text>GRN</text></g><g transform="translate(516,1274) rotate(-90)"><text>LT BLU</text></g><g transform="translate(529,1274) rotate(-90)"><text>RED</text></g><g transform="translate(540,1274) rotate(-90)"><text>WHT</text></g>
<g transform="translate(493,1286) rotate(-90)"><text>6</text></g><g transform="translate(505,1286) rotate(-90)"><text>5</text></g><g transform="translate(516,1286) rotate(-90)"><text>2</text></g><g transform="translate(529,1286) rotate(-90)"><text>3</text></g><g transform="translate(540,1286) rotate(-90)"><text>1</text></g>
<g transform="translate(611,1274) rotate(-90)"><text>PPL</text></g><g transform="translate(623,1274) rotate(-90)"><text>YEL</text></g><g transform="translate(635,1274) rotate(-90)"><text>WHT</text></g><g transform="translate(647,1274) rotate(-90)"><text>ORG</text></g><g transform="translate(659,1274) rotate(-90)"><text>BLK</text></g>
<g transform="translate(611,1286) rotate(-90)"><text>1</text></g><g transform="translate(623,1286) rotate(-90)"><text>2</text></g><g transform="translate(635,1286) rotate(-90)"><text>5</text></g><g transform="translate(647,1286) rotate(-90)"><text>6</text></g><g transform="translate(659,1286) rotate(-90)"><text>4</text></g>
<g transform="translate(706,1274) rotate(-90)"><text>LT GRN</text></g><g transform="translate(718,1274) rotate(-90)"><text>LT BLU</text></g><g transform="translate(730,1274) rotate(-90)"><text>BRN</text></g><g transform="translate(730,1248) rotate(-90)"><text>(OR RED)</text></g><g transform="translate(741,1274) rotate(-90)"><text>BRN</text></g><g transform="translate(753,1274) rotate(-90)"><text>BLK/WHT</text></g>
<g transform="translate(706,1286) rotate(-90)"><text>1</text></g><g transform="translate(718,1286) rotate(-90)"><text>2</text></g><g transform="translate(730,1286) rotate(-90)"><text>5</text></g><g transform="translate(741,1286) rotate(-90)"><text>6</text></g><g transform="translate(753,1286) rotate(-90)"><text>4</text></g>
<g transform="translate(789,1274) rotate(-90)"><text>BRN/WHT</text></g><g transform="translate(801,1274) rotate(-90)"><text>LT BLU/WHT</text></g><g transform="translate(812,1274) rotate(-90)"><text>GRY</text></g><g transform="translate(824,1274) rotate(-90)"><text>RED/WHT</text></g><g transform="translate(836,1274) rotate(-90)"><text>BLK/RED</text></g>
<g transform="translate(789,1286) rotate(-90)"><text>1</text></g><g transform="translate(801,1286) rotate(-90)"><text>2</text></g><g transform="translate(812,1286) rotate(-90)"><text>5</text></g><g transform="translate(824,1286) rotate(-90)"><text>6</text></g><g transform="translate(836,1286) rotate(-90)"><text>4</text></g>
<g transform="translate(895,1274) rotate(-90)"><text>BLU</text></g><g transform="translate(930,1274) rotate(-90)"><text>RED</text></g>
<g transform="translate(895,1286) rotate(-90)"><text>1</text></g><g transform="translate(930,1286) rotate(-90)"><text>2</text></g>
<g transform="translate(434,356) rotate(-90)"><text>2</text></g><g transform="translate(434,405) rotate(-90)"><text>1</text></g>
<g transform="translate(528,354) rotate(-90)"><text>3</text></g><g transform="translate(518,407) rotate(-90)"><text>5</text></g>
<g transform="translate(695,456) rotate(-90)"><text>1</text></g><g transform="translate(706,460) rotate(-90)"><text text-decoration="underline">M3</text></g>
<g transform="translate(765,386) rotate(-90)"><text>4</text></g><g transform="translate(778,390) rotate(-90)"><text text-decoration="underline">E11</text></g>
<g transform="translate(765,450) rotate(-90)"><text>2</text></g><g transform="translate(778,446) rotate(-90)"><text text-decoration="underline">E25</text></g><g transform="translate(778,472) rotate(-90)"><text text-decoration="underline">M17</text></g>
<g transform="translate(871,385) rotate(-90)"><text>1</text></g><g transform="translate(907,385) rotate(-90)"><text>2</text></g>
<g transform="translate(588,835) rotate(-90)"><text>4</text></g><g transform="translate(600,835) rotate(-90)"><text>5</text></g><g transform="translate(612,835) rotate(-90)"><text>6</text></g><g transform="translate(623,835) rotate(-90)"><text>7</text></g><g transform="translate(635,838) rotate(-90)"><text>17</text></g><g transform="translate(647,838) rotate(-90)"><text>19</text></g>
</g>
</svg>
</body></html>
